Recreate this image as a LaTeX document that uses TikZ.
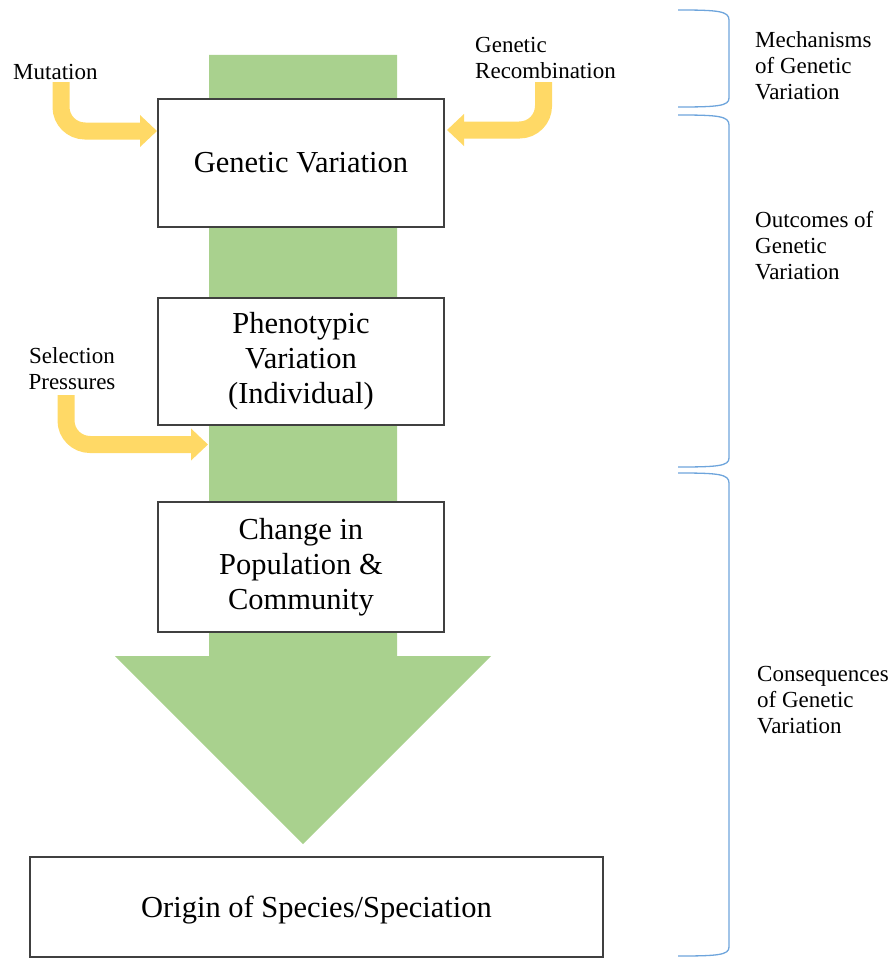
\documentclass[tikz,border=0pt]{standalone}
\usepackage{fontspec}
\setmainfont{Liberation Serif}
\usetikzlibrary{arrows.meta}
\definecolor{shaftgreen}{RGB}{169,209,142}
\definecolor{yel}{RGB}{255,217,102}
\definecolor{braceblue}{RGB}{110,165,220}
\definecolor{boxgray}{RGB}{64,64,64}
\tikzset{
  box/.style={draw=boxgray, line width=1.3pt, fill=white, align=center, inner sep=0pt,
    font={\fontsize{30.5}{35}\selectfont}},
  side/.style={inner sep=0pt, font={\fontsize{23}{26}\selectfont}},
  yarrow/.style={draw=yel, line width=17pt, rounded corners=24pt,
    -{Triangle[width=31pt,length=17pt]}},
  bracket/.style={draw=braceblue, line width=1.3pt}
}
\begin{document}
\begin{tikzpicture}[x=1pt,y=-1pt]
\useasboundingbox (0,0) rectangle (893,958);
% green block arrow
\fill[shaftgreen] (209,55) -- (397,55) -- (397,656) -- (491,656) -- (303,844)
  -- (115,656) -- (209,656) -- cycle;
% boxes
\node[box, minimum width=286pt, minimum height=128pt] (gv) at (301,163) {Genetic Variation};
\node[box, minimum width=286pt, minimum height=127pt] (pv) at (301,361.5) {Phenotypic\\Variation\\(Individual)};
\node[box, minimum width=286pt, minimum height=130pt] (cp) at (301,567) {Change in\\Population \&\\Community};
\node[box, minimum width=573pt, minimum height=100pt, text height=22pt, text depth=2pt] (os) at (316.5,907) {Origin of Species/Speciation};
% side labels
\node[side, anchor=north west, align=left] (mut) at (13,64) {Mutation};
\node[side, anchor=north west, align=left] (rec) at (475,37) {Genetic\\Recombination};
\node[side, anchor=north, align=center] (sel) at (72,347) {Selection\\Pressures};
% yellow arrows
\coordinate (mutS) at (61,82);
\coordinate (mutE) at (157,131);
\coordinate (recS) at (543.5,82);
\coordinate (recE) at (447,130);
\coordinate (selS) at (66,395);
\coordinate (selE) at (208,444.5);
\draw[yarrow] (mutS) |- (mutE);
\draw[yarrow] (recS) |- (recE);
\draw[yarrow] (selS) |- (selE);
% braces
\draw[bracket] (678,10) .. controls (718,10) and (729,11) .. (729,20) -- (729,98)
  .. controls (729,106) and (718,107) .. (678,107);
\draw[bracket] (678,115) .. controls (718,115) and (729,116) .. (729,125) -- (729,458)
  .. controls (729,466) and (718,467) .. (678,467);
\draw[bracket] (678,473) .. controls (718,473) and (729,474) .. (729,483) -- (729,947)
  .. controls (729,955) and (718,956) .. (678,956);
% brace labels
\node[side, anchor=north west, align=left] (mech) at (755,31) {Mechanisms\\of Genetic\\Variation};
\node[side, anchor=north west, align=left] (outc) at (755,211) {Outcomes of\\Genetic\\Variation};
\node[side, anchor=north west, align=left] (cons) at (757,666) {Consequences\\of Genetic\\Variation};
\end{tikzpicture}
\end{document}
